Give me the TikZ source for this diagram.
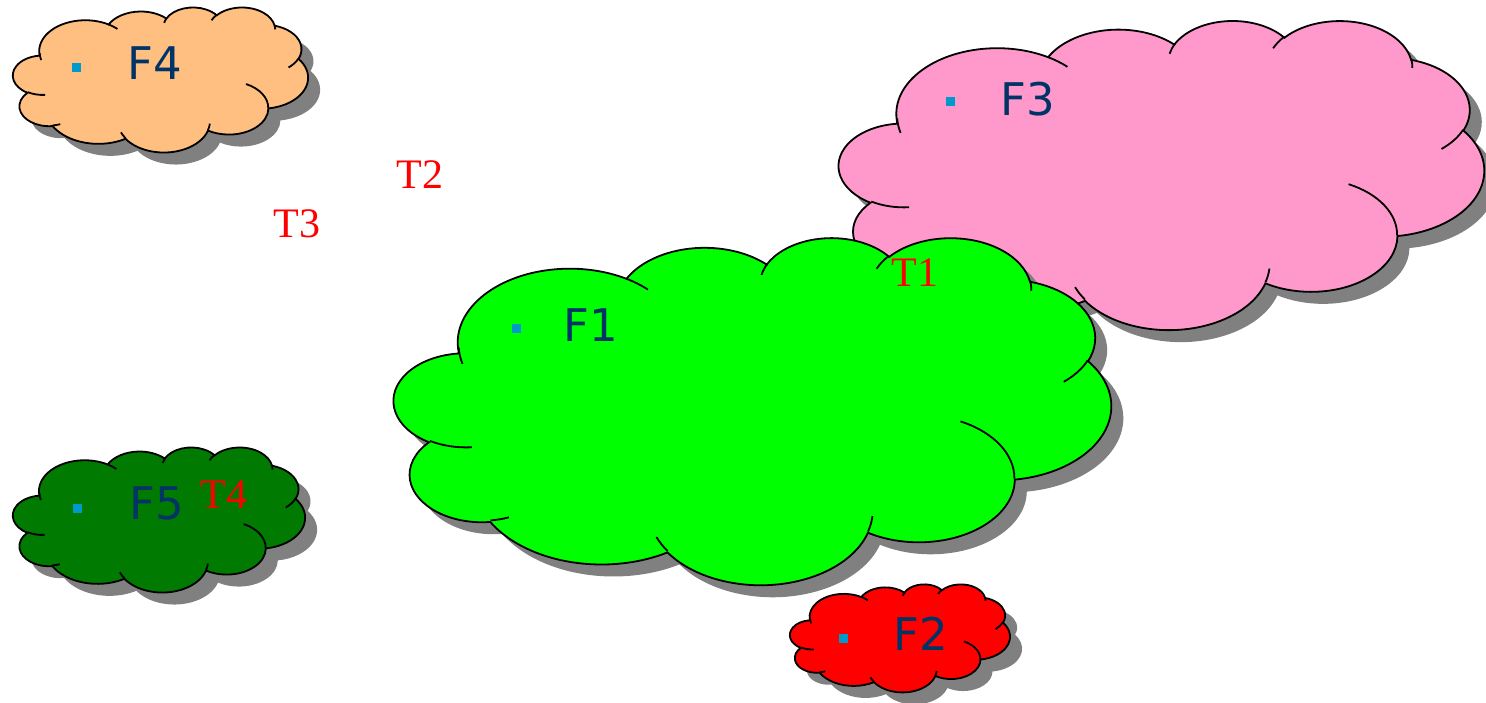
\documentclass[tikz,border=0pt]{standalone}
\usepackage{fontspec}
\newfontfamily\labfont{DejaVu Sans}
\newfontfamily\tfont{Liberation Serif}
\definecolor{labnavy}{HTML}{003366}
\definecolor{dotblue}{HTML}{0099CC}
\definecolor{peach}{HTML}{FFBF80}
\definecolor{rosepink}{HTML}{FF99CC}
\definecolor{brightgreen}{HTML}{00FF00}
\definecolor{darkgreen}{HTML}{007A00}
\tikzset{every picture/.style = {x=0.5pt, y=-0.5pt}}
\tikzset{outline/.style = {draw=black, line width=0.9pt}}
\tikzset{cloudshadow/.style = {fill=gray}}
\tikzset{fdot/.style = {fill=dotblue, inner sep=0, minimum size=4.5pt}}
\tikzset{fname/.style = {text=labnavy, font=\labfont\fontsize{22.5}{24}\selectfont}}
\tikzset{tname/.style = {text=red, font=\tfont\fontsize{21}{24}\selectfont}}
% arc of the cloud, angles seen from the centre
\tikzset{puff/.style n args = {4}{x radius=#1, y radius=#2,
  start angle={atan2(#1*sin(#3),#2*cos(#3))},
  delta angle={mod(atan2(#1*sin(#3+#4),#2*cos(#3+#4))-atan2(#1*sin(#3),#2*cos(#3))+720,360)}}}

\def\cloudpath{(3.900,14.370)
  foreach \w/\h/\s/\d in {6.753/9.190/-190.4875/123.7805, 5.333/7.267/-144.1024/89.9452,
    4.365/5.945/-145.8079/99.7230, 4.857/6.595/-130.9861/117.2417,
    5.333/7.273/-78.7089/109.0269, 6.775/9.220/-46.2673/130.2690,
    5.785/7.867/0.6250/114.0333, 6.752/9.215/22.4516/115.1726,
    7.720/10.543/66.2426/75.7110, 4.360/5.918/-274.9421/146.7356,
    4.345/5.945/-246.8285/152.5189}
  {arc[puff={\w}{\h}{\s}{\d}]} -- cycle}
\def\cloudarcs{
  foreach \px/\py/\w/\h/\s/\d in {4.693/26.177/4.345/5.945/86.7420/26.4295,
    6.928/34.899/4.360/5.918/73.6105/11.4475, 16.478/39.090/6.752/9.215/137.6242/14.0811,
    28.827/34.751/6.752/9.215/6.4533/15.9984, 34.129/22.954/5.785/7.867/-70.2924/70.9174,
    41.798/15.354/5.333/7.273/30.3180/27.7515, 38.324/5.426/4.857/6.595/-13.7443/14.8589,
    29.078/3.952/4.857/6.595/-149.1815/18.1954, 22.141/4.720/4.365/5.945/-163.4943/17.6864,
    14.000/5.192/6.753/9.190/-66.7070/12.3194, 4.127/15.789/6.753/9.190/159.7505/17.1534}
  {(\px,\py) arc[puff={\w}{\h}{\s}{\d}]}}

% left, top, width, height, colour (pixels)
\newcommand\cloud[5]{%
  \pgfmathsetmacro\cw{#3/86.4}%
  \pgfmathsetmacro\ch{#4/86.4}%
  \begin{scope}[shift={(#1+12,#2+12)}, x=\cw pt, y=-\ch pt]
    \fill[cloudshadow] \cloudpath;
  \end{scope}
  \begin{scope}[shift={(#1,#2)}, x=\cw pt, y=-\ch pt]
    \filldraw[outline, fill=#5] \cloudpath;
    \draw[outline] \cloudarcs;
  \end{scope}}

\begin{document}
\begin{tikzpicture}
  \useasboundingbox (0,0) rectangle (1486,702);
  \cloud{13}{7}{295}{145}{peach}
  \cloud{13}{447}{292}{145}{darkgreen}
  \cloud{839}{20}{645}{309}{rosepink}
  \cloud{394}{237}{717}{347}{brightgreen}
  \cloud{790}{584}{220}{108}{red}

  \node[fdot] (d4) at (76,67) {};
  \node[fname] (f4) at (155,63) {F4};
  \node[fdot] (d3) at (950,101) {};
  \node[fname] (f3) at (1028,99) {F3};
  \node[fdot] (d1) at (516,328) {};
  \node[fname] (f1) at (591,325) {F1};
  \node[fdot] (d5) at (77,508) {};
  \node[fname] (f5) at (157,503) {F5};
  \node[fdot] (d2) at (843,638) {};
  \node[fname] (f2) at (921,634) {F2};

  \node[tname] (t1) at (915,273) {T1};
  \node[tname] (t2) at (420,175) {T2};
  \node[tname] (t3) at (297,224) {T3};
  \node[tname] (t4) at (224,495) {T4};
\end{tikzpicture}
\end{document}
